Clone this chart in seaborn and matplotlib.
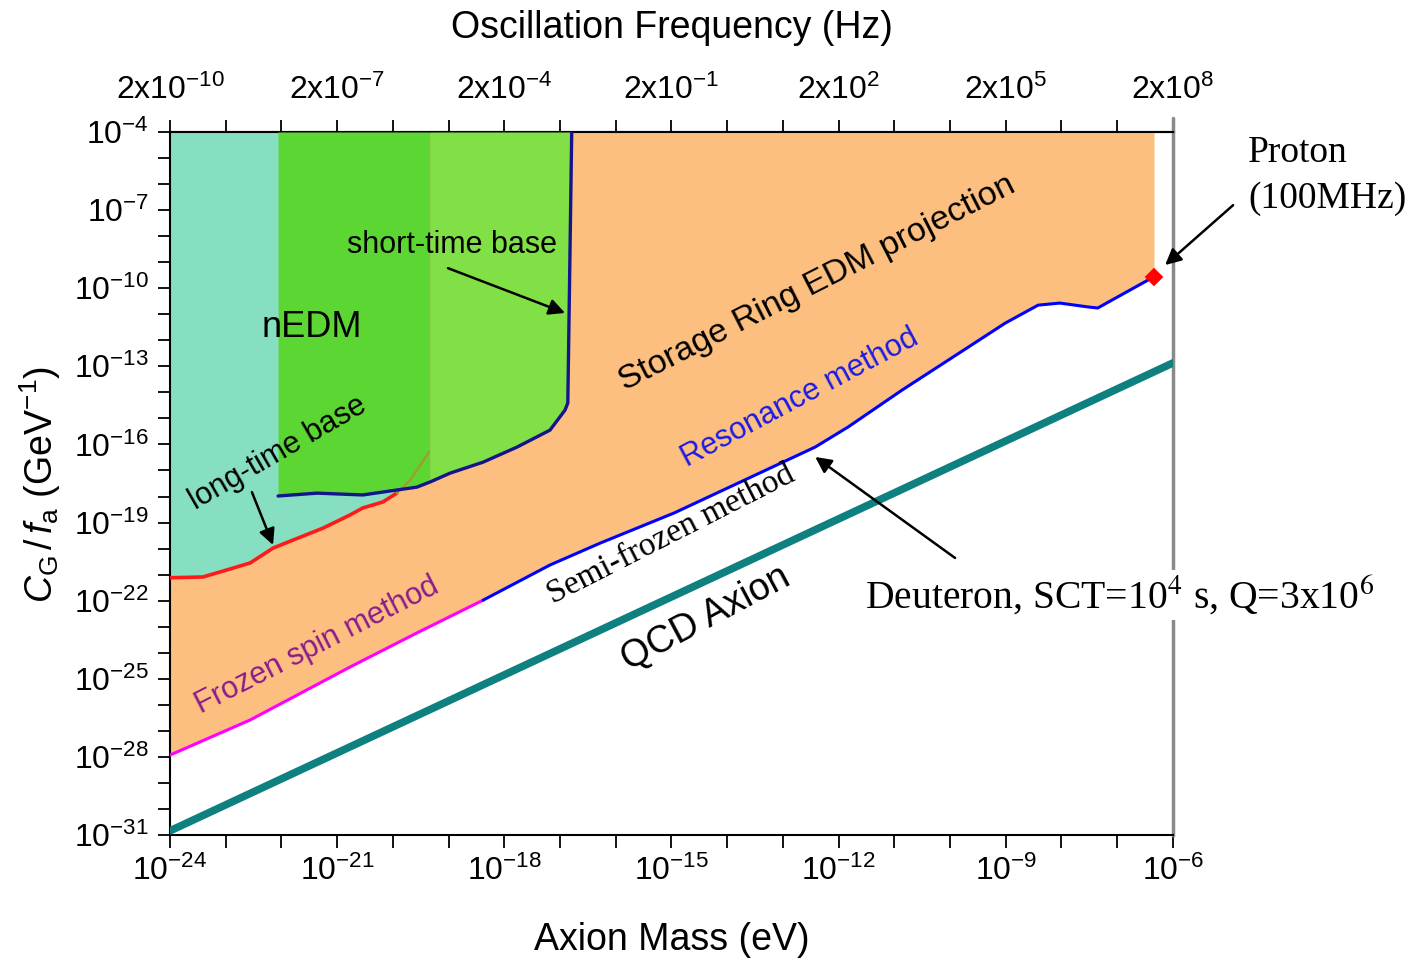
import numpy as np
import matplotlib
matplotlib.use("Agg")
import matplotlib.pyplot as plt
import seaborn as sns
from matplotlib.ticker import FixedLocator, FuncFormatter, NullLocator

# values, stored as log10 (mass in eV, coupling in GeV^-1)
frozen_log_m = [-24.0, -22.56, -20.77, -19.57, -18.38]
frozen_log_c = [-27.93, -26.58, -24.55, -23.24, -21.98]

resonance_log_m = [-18.38, -17.18, -16.28, -14.95, -12.42, -11.83, -10.86, -9.75,
                   -9.01, -8.42, -8.03, -7.52, -7.35, -6.45, -6.34]
resonance_log_c = [-21.98, -20.63, -19.79, -18.63, -16.10, -15.33, -13.91, -12.37,
                   -11.34, -10.65, -10.57, -10.72, -10.76, -9.69, -9.57]

# nEDM long-time base (red), last points run under the green region
longbase_log_m = [-24.0, -23.41, -22.98, -22.56, -22.15, -21.79, -21.25, -20.77,
                  -20.54, -20.18, -19.93, -19.69, -19.35]
longbase_log_c = [-21.12, -21.09, -20.82, -20.55, -19.98, -19.67, -19.21, -18.71,
                  -18.44, -18.21, -17.87, -17.37, -16.29]
LONGBASE_VISIBLE = 11

# nEDM short-time base (navy)
shortbase_log_m = [-22.06, -21.36, -20.54, -19.93, -19.57, -19.33, -18.97, -18.38,
                   -17.77, -17.18, -16.91, -16.86, -16.79]
shortbase_log_c = [-17.98, -17.87, -17.94, -17.75, -17.64, -17.44, -17.10, -16.68,
                   -16.10, -15.45, -14.68, -14.41, -4.0]
SHORTBASE_SPLIT = -19.33

qcd_log_m = [-24.0, -6.0]
qcd_log_c = [-30.84, -12.87]

proton_log_m = [-6.34]
proton_log_c = [-9.57]

mass_exponents = list(range(-24, -5))
coupling_exponents = list(range(-31, -3))
freq_labels = ["2x10$^{-10}$", "2x10$^{-7}$", "2x10$^{-4}$", "2x10$^{-1}$",
               "2x10$^{2}$", "2x10$^{5}$", "2x10$^{8}$"]

H_EV_S = 4.1357e-15
TOP = 1e-4


def p(vals):
    return np.power(10.0, np.asarray(vals, dtype=float))


def mass_to_freq(m):
    return np.asarray(m) / H_EV_S


def freq_to_mass(f):
    return np.asarray(f) * H_EV_S


sns.set_style("ticks")
plt.rcParams["font.family"] = ["Liberation Sans", "DejaVu Sans"]
plt.rcParams["mathtext.fontset"] = "custom"
plt.rcParams["mathtext.rm"] = "Liberation Sans"
plt.rcParams["mathtext.it"] = "Liberation Sans:italic"
plt.rcParams["mathtext.bf"] = "Liberation Sans:bold"
plt.rcParams["text.color"] = "black"
plt.rcParams["xtick.color"] = "black"
plt.rcParams["ytick.color"] = "black"
plt.rcParams["xtick.labelcolor"] = "black"
plt.rcParams["ytick.labelcolor"] = "black"

fig = plt.figure(figsize=(14.13, 9.6), dpi=100)
ax = fig.add_axes([0.1203, 0.1302, 0.7098, 0.7323])
ax.set_xscale("log")
ax.set_yscale("log")

# storage ring projection (orange)
sr_m = p(frozen_log_m + resonance_log_m[1:])
sr_c = p(frozen_log_c + resonance_log_c[1:])
ax.fill_between(sr_m, sr_c, TOP, color="#fdbf80", lw=0, zorder=1)

# nEDM long-time base
lm = p(longbase_log_m[:LONGBASE_VISIBLE])
lc = p(longbase_log_c[:LONGBASE_VISIBLE])
ax.fill_between(lm, lc, TOP, color="#86dfc1", lw=0, zorder=2)

# nEDM short-time base, two shades of green
sm = p(shortbase_log_m)
sc = p(shortbase_log_c)
split = 10.0 ** SHORTBASE_SPLIT
ax.fill_between(sm, sc, TOP, where=sm <= split * 1.0001, color="#5cd633", lw=0, zorder=3)
ax.fill_between(sm, sc, TOP, where=sm >= split * 0.9999, color="#80e045", lw=0, zorder=3)

# curves
sns.lineplot(x=lm, y=lc, ax=ax, color="#ff1a1a", linewidth=2.6, sort=False,
             estimator=None, zorder=4)
sns.lineplot(x=p(longbase_log_m[LONGBASE_VISIBLE - 1:]), y=p(longbase_log_c[LONGBASE_VISIBLE - 1:]),
             ax=ax, color="#a09a30", linewidth=1.6, sort=False, estimator=None, zorder=4)
sns.lineplot(x=sm, y=sc, ax=ax, color="#14148c", linewidth=2.4, sort=False,
             estimator=None, zorder=5)
sns.lineplot(x=p(frozen_log_m), y=p(frozen_log_c), ax=ax, color="#ff00ff", linewidth=2.2,
             sort=False, estimator=None, zorder=5)
sns.lineplot(x=p(resonance_log_m), y=p(resonance_log_c), ax=ax, color="#0000ff", linewidth=2.2,
             sort=False, estimator=None, zorder=5)
sns.lineplot(x=p(qcd_log_m), y=p(qcd_log_c), ax=ax, color="#0f8080", linewidth=5.5,
             sort=False, estimator=None, zorder=5)
sns.scatterplot(x=p(proton_log_m), y=p(proton_log_c), ax=ax, marker="D", s=90,
                color="#ff0000", edgecolor="none", zorder=6)

ax.set_xlim(1e-24, 1e-6)
ax.set_ylim(1e-31, 1e-4)


def exp_label(first):
    # label every third decade, counted from the first one
    def fmt(v, pos):
        e = int(round(np.log10(v)))
        return f"$10^{{{e}}}$" if (e - first) % 3 == 0 else ""
    return fmt


ax.xaxis.set_major_locator(FixedLocator(p(mass_exponents)))
ax.xaxis.set_minor_locator(NullLocator())
ax.xaxis.set_major_formatter(FuncFormatter(exp_label(mass_exponents[0])))
ax.yaxis.set_major_locator(FixedLocator(p(coupling_exponents)))
ax.yaxis.set_minor_locator(NullLocator())
ax.yaxis.set_major_formatter(FuncFormatter(exp_label(coupling_exponents[0])))
ax.tick_params(axis="both", direction="out", length=9, width=1.3, labelsize=23,
               color="black", labelcolor="black")
ax.tick_params(axis="x", pad=6)
ax.tick_params(axis="y", pad=6)
ax.tick_params(top=False, right=False)

secax = ax.secondary_xaxis("top", functions=(mass_to_freq, freq_to_mass))
freq_ticks = mass_to_freq(p(mass_exponents))
secax.xaxis.set_major_locator(FixedLocator(freq_ticks))
secax.xaxis.set_minor_locator(NullLocator())
top_labels = []
for i, e in enumerate(mass_exponents):
    top_labels.append(freq_labels[i // 3] if (e - mass_exponents[0]) % 3 == 0 else "")
secax.xaxis.set_major_formatter(FuncFormatter(lambda v, pos: top_labels[pos] if pos is not None and pos < len(top_labels) else ""))
secax.tick_params(direction="out", length=9, width=1.3, labelsize=23, pad=10,
                  color="black", labelcolor="black")
secax.spines["top"].set_linewidth(1.5)
secax.spines["top"].set_color("black")

for side in ["left", "bottom", "top"]:
    ax.spines[side].set_linewidth(1.5)
    ax.spines[side].set_color("black")
ax.spines["right"].set_color("#8a8a8a")
ax.spines["right"].set_linewidth(2.5)
ax.plot([1, 1], [1, 1.02], transform=ax.transAxes, clip_on=False, color="#8a8a8a", lw=2.5)

# labels inside the plot
serif = ["Liberation Serif", "DejaVu Serif"]
ax.text(p(-21.45), p(-11.49), "nEDM", fontsize=26, ha="center", va="center", zorder=7)
ax.text(p(-18.94), p(-8.34), "short-time base", fontsize=22, ha="center", va="center", zorder=7)
ax.text(p(-22.06), p(-16.33), "long-time base", fontsize=22, ha="center", va="center",
        rotation=30, rotation_mode="anchor", zorder=7)
ax.text(p(-12.39), p(-9.80), "Storage Ring EDM projection", fontsize=24.5, ha="center", va="center",
        rotation=27, rotation_mode="anchor", zorder=7)
ax.text(p(-12.69), p(-14.22), "Resonance method", fontsize=22, color="#1a1ae6", ha="center",
        va="center", rotation=28, rotation_mode="anchor", zorder=7)
ax.text(p(-21.36), p(-23.74), "Frozen spin method", fontsize=22, color="#8b1c8b", ha="center",
        va="center", rotation=27, rotation_mode="anchor", zorder=7)
ax.text(p(-15.01), p(-19.48), "Semi-frozen method", fontsize=24, family=serif,
        ha="center", va="center", rotation=27, rotation_mode="anchor", zorder=7)
ax.text(p(-14.38), p(-22.67), "QCD Axion", fontsize=27, ha="center", va="center",
        rotation=28, rotation_mode="anchor", zorder=7)

ax.text(p(-11.53), p(-21.78), "Deuteron, SCT=10$^4$ s, Q=3x10$^6$", fontsize=28.5,
        family=serif, math_fontfamily="stix", ha="left", va="center", zorder=8,
        bbox=dict(facecolor="white", edgecolor="none", pad=2))
ax.text(p(-4.65), p(-4.15), "Proton\n(100MHz)", fontsize=27, family=serif,
        ha="left", va="top", linespacing=1.42, zorder=8)

arrow = dict(arrowstyle="-|>", color="black", lw=1.8, mutation_scale=24, shrinkA=0, shrinkB=0)
ax.annotate("", xy=(p(-16.91), p(-10.95)), xytext=(p(-19.01), p(-9.23)), arrowprops=arrow, zorder=7)
ax.annotate("", xy=(p(-22.15), p(-19.86)), xytext=(p(-22.53), p(-17.83)), arrowprops=arrow, zorder=7)
ax.annotate("", xy=(p(-12.42), p(-16.48)), xytext=(p(-9.91), p(-20.36)), arrowprops=arrow, zorder=7)
ax.annotate("", xy=(p(-6.14), p(-9.11)), xytext=(p(-4.92), p(-6.81)), arrowprops=arrow,
            annotation_clip=False, zorder=7)

# axis titles
fig.text(672 / 1413, 1 - 28 / 960, "Oscillation Frequency (Hz)", fontsize=27, ha="center", va="center")
fig.text(672 / 1413, 1 - 940 / 960, "Axion Mass (eV)", fontsize=27, ha="center", va="center")
fig.text(40 / 1413, 1 - 485 / 960, "$C_{\\mathrm{G}}\\,/\\,f_{\\mathrm{a}}$ (GeV$^{-1}$)", fontsize=27,
         ha="center", va="center", rotation=90)

fig.savefig("out.png", dpi=100)
